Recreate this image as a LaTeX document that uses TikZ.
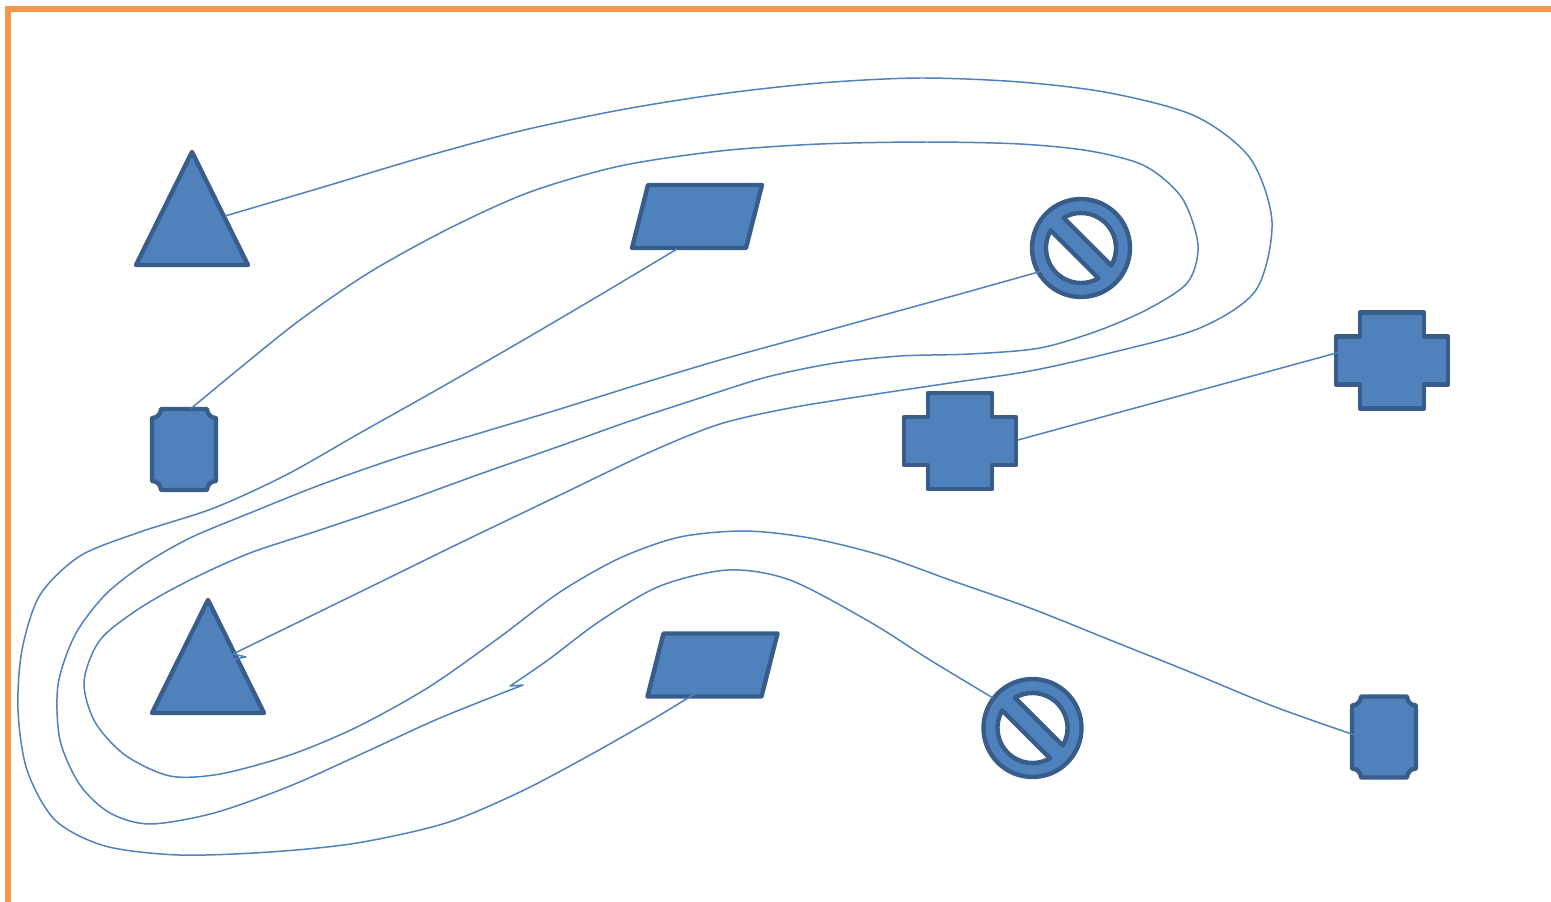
\documentclass[tikz,border=0pt]{standalone}
\usepackage{tikz}
\usetikzlibrary{calc}
\definecolor{shapefill}{RGB}{79,129,189}
\definecolor{shapeline}{RGB}{56,93,138}
\definecolor{framecol}{RGB}{247,150,70}

\begin{document}
\begin{tikzpicture}[
    symbol/.style={fill=shapefill, draw=shapeline, line width=2.5pt, line join=round},
    link/.style={draw=shapefill, line width=0.85pt, line join=round},
    frame/.style={draw=framecol, line width=3pt},
    % shapes, each with a centre coordinate (-c)
    pics/tri/.style={code={
      \draw[symbol] (0,1.13) -- (1.12,-1.13) -- (-1.12,-1.13) -- cycle;
      \coordinate (-c) at (0,0);
    }},
    pics/para/.style={code={
      \draw[symbol] (-0.98,0.63) -- (1.30,0.63) -- (0.98,-0.63) -- (-1.30,-0.63) -- cycle;
      \coordinate (-c) at (0,0);
    }},
    pics/nosign/.style={code={
      \draw[symbol] (0,0) circle (0.98);
      \draw[symbol, fill=white, rotate=-45] (15:0.70) arc (15:165:0.70) -- cycle;
      \draw[symbol, fill=white, rotate=-45] (195:0.70) arc (195:345:0.70) -- cycle;
      \coordinate (-c) at (0,0);
    }},
    pics/plus/.style={code={
      \draw[symbol] (-0.64,0.96) -- (0.64,0.96) -- (0.64,0.48) -- (1.12,0.48) -- (1.12,-0.48)
        -- (0.64,-0.48) -- (0.64,-0.96) -- (-0.64,-0.96) -- (-0.64,-0.48) -- (-1.12,-0.48)
        -- (-1.12,0.48) -- (-0.64,0.48) -- cycle;
      \coordinate (-c) at (0,0);
    }},
    pics/plaque/.style={code={
      \draw[symbol] (-0.64,0.63) arc (270:360:0.18) -- (0.46,0.81) arc (180:270:0.18)
        -- (0.64,-0.63) arc (90:180:0.18) -- (-0.46,-0.81) arc (0:90:0.18) -- cycle;
      \coordinate (-c) at (0,0);
    }}
]
  \useasboundingbox (0,0) rectangle (31.02,-18.04);

  % Frame
  \draw[frame] (0.16,-18.04) -- (0.16,-0.18) -- (31.02,-0.18);

  % Shapes
  \pic (T1) at (3.84,-4.17) {tri};
  \pic (T2) at (4.16,-13.13) {tri};
  \pic (P1) at (13.94,-4.33) {para};
  \pic (P2) at (14.25,-13.30) {para};
  \pic (S1) at (21.62,-4.96) {nosign};
  \pic (S2) at (20.65,-14.56) {nosign};
  \pic (C1) at (19.20,-8.82) {plus};
  \pic (C2) at (27.84,-7.21) {plus};
  \pic (Q1) at (3.68,-8.99) {plaque};
  \pic (Q2) at (27.68,-14.74) {plaque};

  % Triangle to triangle
  \draw[link] plot[smooth] coordinates {([shift={(0.66,-0.15)}]T1-c) (6.40,-3.76) (8.40,-3.16)
      (10.40,-2.62) (12.40,-2.20) (14.40,-1.88) (16.40,-1.66) (18.40,-1.56) (20.40,-1.64)
      (22.20,-1.86) (23.90,-2.32) (25.00,-3.16) (25.44,-4.44) (25.12,-5.80) (24.00,-6.56)
      (22.20,-7.06) (20.60,-7.42) (19.00,-7.66) (17.40,-7.90) (15.80,-8.16) (14.40,-8.48)
      (13.00,-9.04) (11.20,-9.90) (9.20,-10.86) (7.20,-11.84) (4.66,-13.08)}
    -- (4.92,-13.14) -- ([shift={(0.12,-0.13)}]T2-c);

  % Parallelogram to parallelogram
  \draw[link] plot[smooth] coordinates {([shift={(-0.40,-0.65)}]P1-c) (12.00,-5.90) (10.40,-6.84)
      (8.80,-7.76) (7.20,-8.66) (5.72,-9.50) (4.28,-10.16) (2.80,-10.64) (1.60,-11.12)
      (0.80,-11.90) (0.44,-13.00) (0.36,-14.20) (0.54,-15.40) (1.10,-16.40) (2.10,-16.92)
      (3.58,-17.10) (5.40,-17.04) (7.14,-16.86) (8.92,-16.46) (10.40,-15.84) (11.80,-15.10)
      (13.20,-14.30) ([shift={(0.25,-0.20)}]P2-c)};

  % No sign to no sign
  \draw[link] plot[smooth] coordinates {([shift={(-0.78,-0.46)}]S1-c) (19.20,-5.88) (17.60,-6.32)
      (16.00,-6.76) (14.40,-7.20) (12.80,-7.68) (11.20,-8.18) (9.60,-8.66) (8.00,-9.14)
      (6.40,-9.70) (5.00,-10.26) (3.80,-10.76) (2.86,-11.30) (2.10,-11.90) (1.50,-12.70)
      (1.16,-13.70) (1.20,-14.80) (1.60,-15.70) (2.20,-16.26) (3.00,-16.48) (4.28,-16.26)
      (5.80,-15.72) (7.40,-15.00) (8.80,-14.36) (10.46,-13.70)}
    --plot[smooth] coordinates {(10.20,-13.72) (10.96,-13.20) (12.00,-12.42) (13.20,-11.72)
      (14.56,-11.40) (15.80,-11.60) (17.40,-12.44) (18.60,-13.20) ([shift={(-0.79,0.60)}]S2-c)};

  % Plaque to plaque
  \draw[link] plot[smooth] coordinates {([shift={(0.14,0.82)}]Q1-c) (4.80,-7.36) (6.00,-6.40)
      (7.40,-5.44) (9.00,-4.56) (10.60,-3.84) (12.40,-3.32) (14.40,-3.02) (16.40,-2.88)
      (18.54,-2.84) (20.40,-2.88) (21.80,-3.02) (22.90,-3.32) (23.64,-3.96) (23.96,-4.90)
      (23.76,-5.64) (23.00,-6.16) (22.00,-6.60) (20.80,-6.96) (19.40,-7.08) (18.00,-7.12)
      (16.70,-7.26) (15.34,-7.54) (14.00,-7.96) (12.60,-8.42) (11.20,-8.92) (9.60,-9.48)
      (8.00,-10.06) (6.40,-10.60) (5.00,-11.06) (3.80,-11.60) (2.80,-12.16) (2.00,-12.80)
      (1.68,-13.64) (1.90,-14.44) (2.50,-15.10) (3.40,-15.52) (4.40,-15.48) (5.80,-15.10)
      (7.14,-14.54) (8.58,-13.74) (10.00,-12.74) (11.20,-11.84) (12.40,-11.16) (13.60,-10.74)
      (14.90,-10.62) (16.20,-10.76) (17.60,-11.10) (19.00,-11.60) (20.60,-12.16) (22.20,-12.80)
      (23.80,-13.44) (25.40,-14.10) (26.80,-14.60) ([shift={(0.32,-0.26)}]Q2-c)};

  % Cross to cross
  \draw[link] ([shift={(1.16,0.02)}]C1-c) -- ([shift={(-1.04,0.17)}]C2-c);
\end{tikzpicture}
\end{document}
